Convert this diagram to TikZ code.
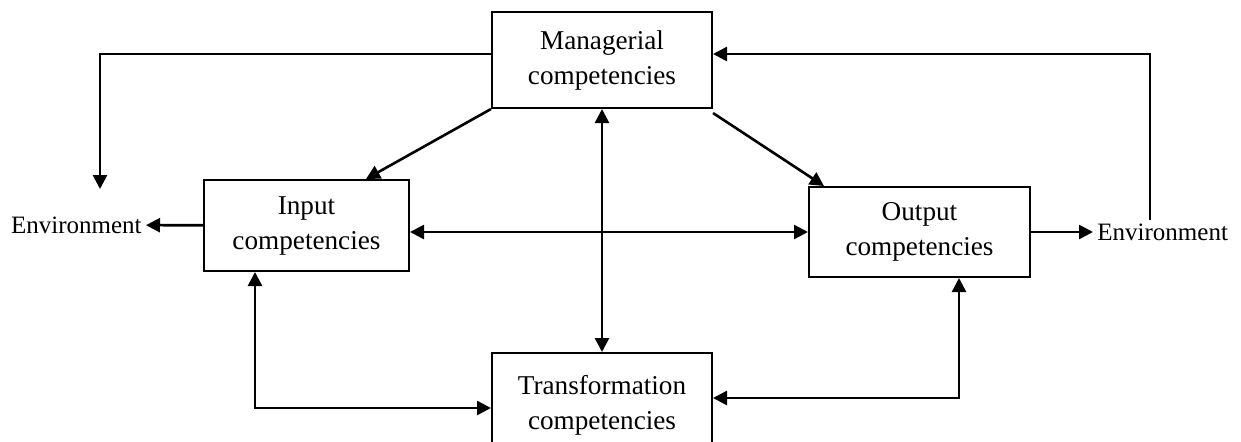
\documentclass[tikz,border=0pt]{standalone}
\usepackage{fontspec}
\setmainfont{Liberation Serif}
\usetikzlibrary{arrows.meta}

\begin{document}
\begin{tikzpicture}[x=0.5pt,y=-0.5pt,
  box/.style={draw,line width=1pt,minimum width=110pt,minimum height=48pt,
    align=center,inner sep=0pt,font=\fontsize{13.6}{17.5}\selectfont},
  env/.style={inner sep=2pt,font=\fontsize{12.5}{15}\selectfont},
  arr/.style={line width=1.3pt,-{Triangle[length=7pt,width=7pt]}},
  dbl/.style={line width=1.3pt,{Triangle[length=7pt,width=7pt]}-{Triangle[length=7pt,width=7pt]}}]
\useasboundingbox (0,0) rectangle (1241,441);
\clip (0,0) rectangle (1241,441);
\node[box] (mgr) at (602,60) {Managerial\\competencies};
\node[box,minimum width=102.5pt,minimum height=45.5pt] (inp) at (306.5,225.5) {Input\\competencies};
\node[box,minimum width=110.5pt,minimum height=45pt] (out) at (919.5,232) {Output\\competencies};
\node[box,minimum height=52pt] (trf) at (602,405) {Transformation\\competencies};
\node[env,anchor=east] (envl) at (146,225) {Environment};
\node[env,anchor=west] (envr) at (1093,232) {Environment};
\coordinate (dropl) at (100,189);
\coordinate (riser) at (1150,220);
\coordinate (cornl) at (255,408);
\coordinate (cornr) at (959,398);
% feedback to and from the environment
\draw[arr] ([yshift=3pt]mgr.west) -| (dropl);
\draw[arr] (riser) |- ([yshift=3pt]mgr.east);
\draw[arr] (inp) -- (envl);
\draw[arr] (out) -- (envr);
% managerial links
\draw[arr] (mgr.south west) -- ([xshift=-22pt]inp.north east);
\draw[arr] ([yshift=-2pt]mgr.south east) -- ([xshift=8pt]out.north west);
\draw[dbl] (mgr) -- (trf);
% input, transformation, output
\draw[dbl] (inp.east |- out.west) -- (out.west);
\draw[dbl] (inp.south -| cornl) -- (cornl) -- (trf.west |- cornl);
\draw[dbl] (trf.east |- cornr) -- (cornr) -- (out.south -| cornr);
\end{tikzpicture}
\end{document}
